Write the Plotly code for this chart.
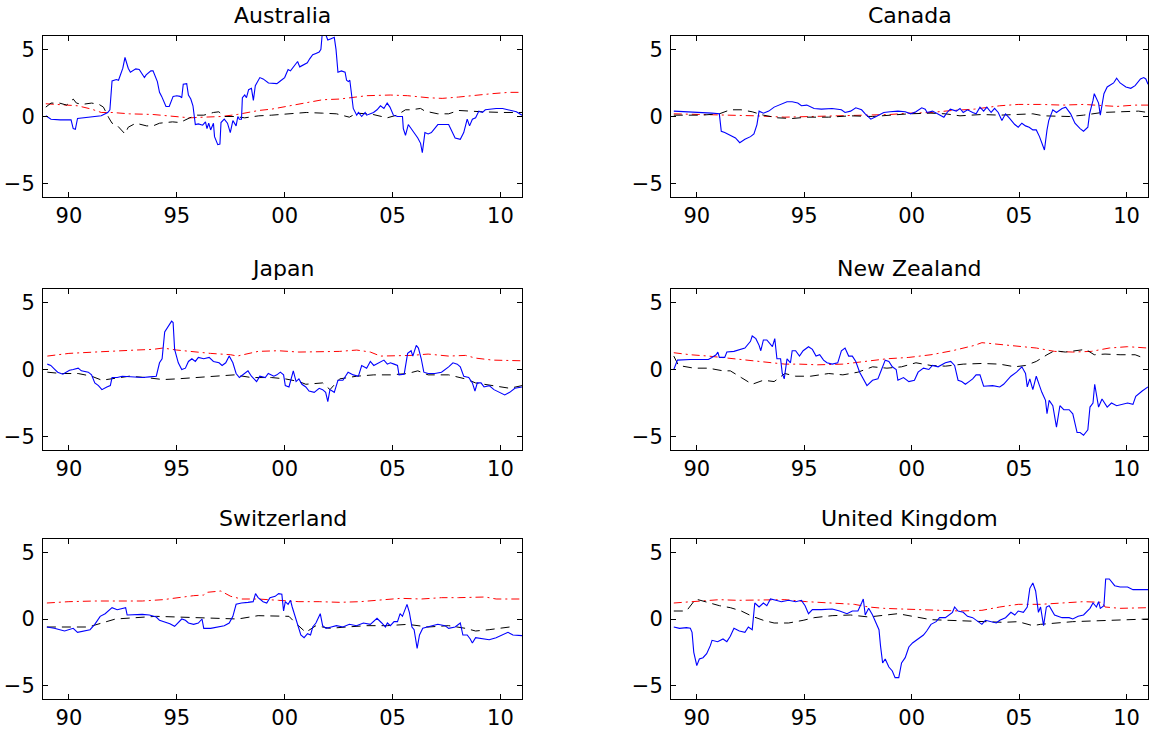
import plotly.graph_objects as go

# ---------------- data (decimal years, values) ----------------
TITLES = ["Australia", "Canada", "Japan", "New Zealand", "Switzerland", "United Kingdom"]
X_TICKS = [1990, 1995, 2000, 2005, 2010]
X_TICK_LABELS = ["90", "95", "00", "05", "10"]
Y_TICKS = [-5, 0, 5]
Y_TICK_LABELS = ["\u22125", "0", "5"]

# Australia
AUS_BLUE_X = [1988.93, 1989.17, 1989.6, 1990.1, 1990.2, 1990.3, 1990.4, 1990.9, 1991.5, 1991.8, 1991.9, 1992.0, 1992.2, 1992.3, 1992.5, 1992.6, 1992.75, 1992.85, 1993.1, 1993.26, 1993.5, 1993.58, 1993.8, 1993.9, 1994.1, 1994.2, 1994.3, 1994.5, 1994.65, 1994.83, 1995.0, 1995.15, 1995.23, 1995.3, 1995.46, 1995.54, 1995.65, 1995.75, 1995.86, 1996.0, 1996.2, 1996.33, 1996.4, 1996.48, 1996.57, 1996.7, 1996.75, 1996.9, 1997.0, 1997.05, 1997.2, 1997.35, 1997.48, 1997.6, 1997.75, 1997.83, 1997.9, 1998.0, 1998.04, 1998.15, 1998.23, 1998.33, 1998.46, 1998.55, 1998.64, 1998.85, 1999.0, 1999.25, 1999.64, 1999.8, 2000.0, 2000.08, 2000.16, 2000.27, 2000.43, 2000.6, 2000.7, 2000.9, 2001.05, 2001.16, 2001.3, 2001.45, 2001.6, 2001.68, 2001.76, 2001.88, 2002.0, 2002.15, 2002.3, 2002.38, 2002.47, 2002.63, 2002.8, 2002.87, 2002.95, 2003.02, 2003.18, 2003.34, 2003.42, 2003.57, 2003.73, 2003.8, 2003.97, 2004.12, 2004.28, 2004.44, 2004.6, 2004.75, 2004.88, 2005.04, 2005.23, 2005.46, 2005.5, 2005.6, 2005.73, 2005.86, 2006.01, 2006.17, 2006.3, 2006.38, 2006.5, 2006.65, 2006.8, 2006.96, 2007.1, 2007.6, 2007.75, 2007.9, 2008.14, 2008.3, 2008.46, 2008.57, 2008.7, 2008.85, 2009.0, 2009.17, 2009.3, 2009.8, 2010.1, 2010.4, 2010.74, 2011.0]
AUS_BLUE_Y = [0.05, -0.2, -0.25, -0.25, -0.9, -0.95, -0.15, -0.05, 0.05, 0.3, 0.5, 2.65, 2.75, 2.7, 3.6, 4.4, 3.6, 3.3, 3.55, 3.5, 2.9, 3.1, 3.4, 3.4, 2.6, 1.8, 1.5, 0.75, 0.75, 1.5, 1.55, 1.5, 1.4, 2.4, 2.45, 1.6, 1.3, 0.8, -0.6, -0.55, -0.65, -0.4, -0.9, -0.5, -1.0, -0.5, -1.5, -2.1, -2.05, -0.45, -0.2, -0.5, -1.2, -0.3, -0.7, 0.0, -0.2, -0.2, 1.4, 1.6, 1.4, 2.0, 2.1, 1.2, 2.3, 2.9, 2.8, 2.5, 2.45, 2.65, 2.9, 3.2, 3.5, 3.4, 3.75, 4.1, 3.7, 3.9, 4.0, 4.3, 4.6, 4.7, 4.8, 5.0, 6.5, 6.2, 5.7, 5.8, 5.9, 5.0, 3.3, 3.4, 3.3, 2.7, 2.6, 2.7, 0.6, 0.1, 0.3, 0.0, 0.3, 0.1, 0.2, 0.3, 0.5, 0.8, 0.6, 1.0, 0.7, 0.1, 0.0, 0.0, -0.9, -1.4, -0.6, -0.9, -1.3, -1.6, -2.0, -2.7, -1.2, -1.3, -1.2, -0.9, -0.6, -0.6, -1.1, -1.6, -1.7, -1.2, -0.2, -0.7, -0.2, -0.1, 0.4, 0.3, 0.5, 0.6, 0.6, 0.5, 0.35, 0.1]
AUS_BLACK_X = [1988.93, 1989.17, 1989.56, 1989.9, 1990.2, 1990.35, 1990.6, 1991.05, 1991.4, 1991.6, 1991.85, 1992.0, 1992.2, 1992.6, 1992.75, 1993.1, 1993.6, 1993.9, 1994.2, 1994.8, 1995.15, 1995.6, 1995.95, 1996.25, 1996.7, 1996.95, 1997.2, 1997.67, 1998.15, 1998.8, 1999.4, 2000.2, 2001.0, 2001.76, 2002.4, 2003.0, 2003.34, 2003.8, 2004.1, 2004.75, 2005.2, 2005.6, 2005.86, 2006.3, 2006.5, 2007.1, 2007.6, 2008.06, 2008.5, 2009.17, 2010.1, 2011.0]
AUS_BLACK_Y = [0.7, 1.0, 1.0, 0.85, 1.3, 1.0, 0.9, 1.0, 0.9, 0.7, -0.1, -0.5, -0.6, -1.3, -0.8, -0.5, -0.7, -0.7, -0.5, -0.4, -0.45, -0.1, 0.1, 0.1, 0.3, 0.35, 0.0, 0.0, -0.1, 0.05, 0.1, 0.2, 0.3, 0.25, 0.2, -0.05, 0.25, 0.2, 0.15, -0.1, 0.1, 0.5, 0.5, 0.6, 0.4, 0.2, 0.2, 0.45, 0.4, 0.35, 0.3, 0.3]
AUS_RED_X = [1988.93, 1989.6, 1990.4, 1991.05, 1991.5, 1992.0, 1992.8, 1993.9, 1994.7, 1995.6, 1996.25, 1997.05, 1997.8, 1998.8, 1999.4, 2000.2, 2001.0, 2001.76, 2002.55, 2003.0, 2003.8, 2004.9, 2005.7, 2006.65, 2007.3, 2008.06, 2008.85, 2009.6, 2010.4, 2011.0]
AUS_RED_Y = [0.95, 0.9, 0.8, 0.55, 0.3, 0.3, 0.2, 0.15, 0.05, -0.1, -0.05, 0.0, 0.15, 0.45, 0.55, 0.8, 1.05, 1.25, 1.3, 1.4, 1.55, 1.6, 1.55, 1.4, 1.35, 1.45, 1.6, 1.7, 1.8, 1.8]

# Canada
CAN_BLUE_X = [1988.93, 1989.7, 1990.37, 1990.7, 1991.05, 1991.14, 1991.3, 1991.56, 1991.8, 1992.0, 1992.24, 1992.5, 1992.66, 1992.8, 1992.9, 1993.1, 1993.35, 1993.6, 1993.94, 1994.2, 1994.44, 1994.7, 1994.87, 1995.12, 1995.46, 1995.8, 1996.3, 1996.73, 1996.9, 1997.16, 1997.4, 1997.67, 1997.84, 1998.1, 1998.35, 1998.7, 1999.0, 1999.36, 1999.7, 1999.96, 2000.2, 2000.47, 2000.63, 2000.72, 2000.97, 2001.3, 2001.5, 2001.65, 2001.8, 2002.08, 2002.25, 2002.4, 2002.6, 2002.84, 2003.0, 2003.18, 2003.35, 2003.5, 2003.7, 2003.86, 2004.03, 2004.2, 2004.37, 2004.54, 2004.8, 2004.96, 2005.13, 2005.3, 2005.47, 2005.64, 2005.8, 2005.95, 2006.06, 2006.18, 2006.3, 2006.38, 2006.57, 2006.74, 2007.0, 2007.17, 2007.4, 2007.6, 2007.84, 2008.0, 2008.2, 2008.28, 2008.44, 2008.5, 2008.7, 2008.78, 2008.95, 2009.1, 2009.4, 2009.54, 2009.7, 2009.97, 2010.2, 2010.4, 2010.65, 2010.8, 2010.9, 2011.0]
CAN_BLUE_Y = [0.4, 0.35, 0.3, 0.25, 0.2, -1.1, -1.2, -1.4, -1.6, -1.95, -1.7, -1.5, -1.3, -0.6, 0.4, 0.25, 0.4, 0.7, 0.9, 1.1, 1.1, 1.0, 0.8, 0.85, 0.6, 0.55, 0.6, 0.5, 0.3, 0.4, 0.65, 0.5, 0.2, -0.2, 0.0, 0.3, 0.35, 0.4, 0.35, 0.2, 0.35, 0.65, 0.55, 0.3, 0.4, 0.15, -0.05, 0.3, 0.55, 0.4, 0.6, 0.3, 0.5, 0.3, 0.2, 0.7, 0.4, 0.7, 0.3, 0.6, 0.3, -0.3, 0.2, -0.1, -0.6, -0.8, -0.5, -0.7, -0.8, -1.0, -1.0, -1.5, -2.0, -2.5, -1.0, -0.3, 0.5, 0.3, 0.6, 0.7, 0.2, -0.5, -0.9, -1.1, -0.8, 0.2, 1.2, 1.7, 1.0, 0.1, 1.7, 2.2, 2.5, 2.85, 2.5, 2.2, 2.1, 2.3, 2.8, 2.9, 2.8, 2.4]
CAN_BLACK_X = [1988.93, 1990.2, 1991.05, 1991.56, 1992.07, 1992.58, 1993.1, 1993.77, 1994.44, 1995.12, 1996.14, 1997.16, 1998.18, 1999.0, 1999.87, 2000.9, 2001.57, 2002.25, 2003.27, 2004.1, 2004.96, 2005.64, 2006.14, 2006.65, 2007.33, 2008.0, 2008.86, 2009.7, 2010.56, 2011.0]
CAN_BLACK_Y = [0.1, 0.1, 0.2, 0.5, 0.5, 0.35, 0.1, -0.1, -0.15, -0.05, -0.05, 0.05, 0.0, 0.1, 0.2, 0.25, 0.2, 0.05, 0.15, 0.1, 0.15, 0.2, 0.05, 0.05, 0.0, 0.1, 0.3, 0.35, 0.4, 0.3]
CAN_RED_X = [1988.93, 1990.5, 1991.7, 1992.75, 1994.1, 1995.63, 1996.8, 1998.0, 1999.0, 1999.87, 2000.9, 2001.9, 2002.93, 2004.1, 2004.96, 2006.0, 2007.0, 2008.0, 2008.86, 2009.54, 2010.4, 2011.0]
CAN_RED_Y = [0.2, 0.15, 0.1, 0.05, -0.05, 0.0, 0.05, 0.1, 0.15, 0.25, 0.3, 0.45, 0.55, 0.8, 0.9, 0.9, 0.85, 0.9, 0.8, 0.75, 0.85, 0.85]

# Japan
JPN_BLUE_X = [1989.0, 1989.16, 1989.32, 1989.48, 1989.72, 1989.87, 1990.03, 1990.2, 1990.43, 1990.58, 1990.9, 1991.05, 1991.2, 1991.37, 1991.53, 1991.76, 1991.92, 1992.0, 1992.24, 1992.47, 1992.8, 1993.1, 1993.42, 1993.73, 1994.05, 1994.2, 1994.32, 1994.44, 1994.6, 1994.76, 1994.83, 1994.9, 1995.07, 1995.23, 1995.4, 1995.54, 1995.7, 1995.86, 1996.0, 1996.25, 1996.5, 1996.7, 1996.96, 1997.1, 1997.27, 1997.43, 1997.6, 1997.75, 1997.9, 1998.14, 1998.3, 1998.46, 1998.7, 1998.85, 1999.1, 1999.24, 1999.5, 1999.64, 1999.8, 1999.95, 2000.03, 2000.2, 2000.3, 2000.4, 2000.53, 2000.66, 2000.8, 2000.98, 2001.13, 2001.37, 2001.6, 2001.76, 2001.9, 2002.0, 2002.1, 2002.3, 2002.47, 2002.7, 2002.94, 2003.18, 2003.42, 2003.57, 2003.8, 2003.97, 2004.13, 2004.36, 2004.6, 2004.76, 2004.9, 2005.07, 2005.23, 2005.3, 2005.54, 2005.7, 2005.86, 2005.94, 2006.1, 2006.2, 2006.33, 2006.45, 2006.65, 2006.96, 2007.27, 2007.6, 2007.8, 2008.0, 2008.14, 2008.3, 2008.53, 2008.7, 2008.82, 2008.93, 2009.1, 2009.24, 2009.48, 2009.7, 2009.95, 2010.2, 2010.43, 2010.67, 2011.0]
JPN_BLUE_Y = [0.4, 0.3, 0.05, -0.2, -0.35, -0.2, -0.05, 0.0, 0.1, -0.1, -0.2, -0.4, -1.0, -1.2, -1.5, -1.3, -1.2, -0.6, -0.6, -0.5, -0.55, -0.6, -0.6, -0.55, -0.5, 0.5, 0.8, 2.8, 3.2, 3.6, 3.5, 1.5, 0.5, 0.0, 0.1, 0.6, 0.8, 0.6, 0.9, 0.8, 0.9, 0.6, 0.5, 0.3, 0.5, 1.0, 0.5, -0.3, -0.6, -0.3, -0.1, -0.5, -0.9, -0.5, -0.6, -0.3, -0.5, -0.4, -0.2, -0.4, -1.2, -1.3, -0.7, -0.1, -0.9, -0.7, -1.1, -1.3, -1.6, -1.7, -1.4, -1.5, -1.7, -2.4, -1.5, -1.7, -0.8, -0.8, -0.2, -0.4, -0.5, 0.3, 0.1, 0.6, 0.3, 0.5, 0.7, 0.4, 0.5, 0.4, 0.3, -0.4, -0.35, 1.2, 1.4, 1.0, 1.8, 1.6, 0.8, -0.2, -0.3, -0.3, -0.2, 0.2, 0.5, 0.4, 0.2, -0.5, -0.6, -1.0, -1.6, -1.0, -1.0, -1.3, -1.2, -1.5, -1.7, -1.9, -1.7, -1.4, -1.3]
JPN_BLACK_X = [1989.0, 1989.64, 1990.43, 1991.05, 1991.53, 1992.0, 1992.8, 1993.57, 1994.36, 1995.0, 1995.94, 1996.88, 1997.67, 1998.46, 1999.4, 2000.03, 2000.66, 2000.98, 2001.76, 2002.1, 2002.55, 2003.34, 2004.13, 2004.9, 2005.7, 2006.17, 2006.65, 2007.6, 2008.38, 2008.85, 2009.64, 2010.43, 2011.0]
JPN_BLACK_Y = [-0.2, -0.3, -0.3, -0.5, -0.8, -0.7, -0.5, -0.6, -0.75, -0.7, -0.6, -0.5, -0.4, -0.6, -0.6, -0.7, -0.9, -1.1, -1.0, -1.5, -0.7, -0.5, -0.4, -0.4, -0.3, -0.1, -0.4, -0.4, -0.7, -1.0, -1.2, -1.4, -1.2]
JPN_RED_X = [1989.0, 1990.0, 1991.2, 1992.15, 1993.1, 1993.9, 1994.36, 1995.0, 1995.8, 1996.57, 1997.5, 1997.8, 1998.77, 1999.7, 2000.66, 2001.6, 2002.55, 2003.34, 2003.97, 2004.44, 2005.23, 2005.86, 2006.65, 2007.6, 2008.38, 2008.85, 2009.64, 2010.43, 2011.0]
JPN_RED_Y = [1.0, 1.2, 1.3, 1.4, 1.45, 1.5, 1.6, 1.45, 1.3, 1.2, 1.1, 1.0, 1.35, 1.4, 1.3, 1.35, 1.35, 1.45, 1.3, 1.0, 1.0, 1.05, 1.15, 1.0, 1.05, 0.85, 0.7, 0.7, 0.65]

# New Zealand
NZL_BLUE_X = [1988.93, 1989.1, 1989.7, 1990.54, 1990.7, 1990.9, 1990.98, 1991.05, 1991.3, 1991.4, 1991.73, 1991.98, 1992.24, 1992.5, 1992.58, 1992.75, 1992.9, 1992.98, 1993.1, 1993.26, 1993.43, 1993.52, 1993.63, 1993.73, 1993.9, 1993.98, 1994.07, 1994.2, 1994.36, 1994.44, 1994.6, 1994.78, 1994.95, 1995.2, 1995.38, 1995.55, 1995.72, 1995.9, 1996.06, 1996.3, 1996.56, 1996.73, 1996.9, 1997.07, 1997.24, 1997.4, 1997.58, 1997.75, 1997.92, 1998.18, 1998.43, 1998.6, 1998.77, 1998.94, 1999.1, 1999.28, 1999.36, 1999.62, 1999.87, 2000.13, 2000.3, 2000.55, 2000.8, 2000.97, 2001.23, 2001.57, 2001.82, 2002.0, 2002.16, 2002.33, 2002.5, 2002.67, 2002.84, 2003.0, 2003.18, 2003.35, 2003.77, 2004.1, 2004.28, 2004.62, 2004.88, 2005.13, 2005.3, 2005.38, 2005.5, 2005.64, 2005.8, 2005.95, 2006.06, 2006.23, 2006.3, 2006.4, 2006.57, 2006.74, 2006.9, 2007.08, 2007.33, 2007.5, 2007.7, 2007.84, 2008.0, 2008.2, 2008.3, 2008.44, 2008.52, 2008.7, 2008.86, 2009.1, 2009.3, 2009.54, 2009.8, 2010.05, 2010.3, 2010.43, 2010.73, 2011.0]
NZL_BLUE_Y = [0.0, 0.7, 0.75, 0.75, 0.9, 1.1, 1.3, 0.9, 0.9, 1.3, 1.35, 1.5, 1.6, 2.1, 2.5, 2.3, 1.8, 1.4, 2.2, 2.2, 1.9, 1.7, 2.3, 0.8, 0.8, -0.3, -0.7, 0.8, 0.5, 1.4, 1.4, 1.0, 1.4, 1.7, 1.5, 1.0, 1.1, 0.7, 0.5, 0.4, 0.5, 1.4, 1.6, 1.0, 1.0, 0.6, -0.2, -0.7, -1.2, -0.8, -0.7, 0.0, 0.7, 0.6, 0.2, 0.0, -0.8, -0.6, -0.9, -0.8, -0.2, 0.1, 0.0, 0.3, 0.2, 0.5, 0.6, 0.3, -0.8, -0.9, -1.1, -0.9, -0.7, -0.4, -0.4, -1.25, -1.2, -1.3, -1.1, -0.5, -0.2, 0.2, -0.3, -1.3, -0.7, -1.5, -0.5, -1.2, -1.7, -2.3, -3.3, -2.3, -2.7, -4.3, -2.7, -3.0, -3.0, -3.3, -4.7, -4.7, -4.9, -4.5, -2.8, -2.5, -1.1, -2.8, -2.2, -2.8, -2.5, -2.7, -2.6, -2.5, -2.6, -2.0, -1.6, -1.3]
NZL_BLACK_X = [1988.93, 1989.15, 1989.86, 1990.54, 1991.22, 1991.56, 1992.07, 1992.58, 1993.1, 1993.6, 1994.1, 1994.6, 1995.3, 1996.14, 1996.8, 1997.5, 1998.18, 1998.85, 1999.53, 2000.2, 2000.9, 2001.57, 2002.4, 2003.27, 2004.1, 2004.8, 2005.3, 2005.8, 2006.3, 2006.65, 2007.15, 2007.7, 2008.1, 2008.5, 2009.0, 2009.7, 2010.4, 2010.73]
NZL_BLACK_Y = [1.0, 0.3, 0.1, 0.1, -0.1, -0.1, -0.6, -1.1, -0.8, -0.9, -0.3, -0.5, -0.5, -0.3, -0.4, -0.2, 0.2, 0.1, 0.2, 0.5, 0.3, 0.25, 0.4, 0.45, 0.4, 0.2, 0.3, 0.6, 1.1, 1.4, 1.3, 1.4, 1.5, 1.1, 1.15, 1.1, 1.1, 0.9]
NZL_RED_X = [1988.93, 1989.7, 1990.54, 1991.4, 1992.24, 1993.1, 1994.1, 1994.78, 1995.63, 1996.8, 1997.84, 1998.85, 1999.87, 2000.9, 2001.9, 2002.93, 2003.27, 2003.94, 2004.96, 2005.8, 2006.65, 2007.5, 2008.36, 2009.2, 2010.05, 2011.0]
NZL_RED_Y = [1.25, 1.1, 1.0, 0.85, 0.75, 0.6, 0.4, 0.4, 0.35, 0.4, 0.6, 0.8, 0.9, 1.1, 1.4, 1.8, 2.0, 1.9, 1.7, 1.6, 1.35, 1.3, 1.35, 1.6, 1.7, 1.6]

# Switzerland
CHE_BLUE_X = [1988.98, 1989.32, 1989.8, 1990.03, 1990.2, 1990.4, 1990.66, 1990.98, 1991.2, 1991.45, 1991.68, 1991.84, 1992.0, 1992.24, 1992.47, 1992.63, 1992.7, 1993.1, 1993.4, 1993.73, 1994.05, 1994.2, 1994.44, 1994.68, 1994.9, 1995.07, 1995.23, 1995.4, 1995.54, 1995.78, 1996.0, 1996.17, 1996.25, 1996.57, 1996.88, 1997.2, 1997.43, 1997.6, 1997.75, 1998.0, 1998.3, 1998.54, 1998.65, 1998.77, 1999.0, 1999.17, 1999.32, 1999.56, 1999.72, 1999.87, 1999.95, 2000.03, 2000.16, 2000.27, 2000.35, 2000.43, 2000.6, 2000.75, 2000.9, 2001.06, 2001.2, 2001.3, 2001.45, 2001.57, 2001.65, 2001.76, 2001.92, 2002.16, 2002.4, 2002.7, 2003.0, 2003.33, 2003.65, 2003.97, 2004.28, 2004.5, 2004.67, 2004.76, 2004.9, 2005.07, 2005.23, 2005.35, 2005.46, 2005.67, 2005.78, 2005.9, 2006.0, 2006.14, 2006.25, 2006.4, 2006.65, 2007.1, 2007.43, 2007.6, 2007.9, 2008.14, 2008.26, 2008.46, 2008.6, 2008.7, 2008.85, 2009.17, 2009.48, 2009.8, 2010.1, 2010.35, 2010.58, 2011.0]
CHE_BLUE_Y = [-0.6, -0.7, -0.9, -0.8, -0.7, -1.0, -0.9, -0.8, -0.4, 0.2, 0.4, 0.6, 0.85, 0.7, 0.8, 0.85, 0.3, 0.35, 0.35, 0.3, 0.15, -0.1, -0.2, -0.35, -0.55, -0.3, 0.0, -0.1, -0.3, -0.4, -0.3, 0.0, -0.7, -0.7, -0.6, -0.5, -0.3, 0.2, 1.1, 1.2, 1.25, 1.3, 1.9, 1.6, 1.3, 1.2, 1.6, 1.7, 1.9, 1.85, 0.6, 1.3, 1.1, 1.4, 0.9, 0.5, -0.3, -1.2, -1.4, -1.1, -1.2, -0.6, -0.3, 0.1, 0.4, -0.5, -0.7, -0.6, -0.5, -0.6, -0.4, -0.5, -0.3, -0.4, 0.05, -0.3, -0.6, -0.3, -0.5, -0.2, -0.2, 0.4, 0.2, 1.1, 0.5, -0.6, -0.8, -2.2, -1.2, -0.7, -0.6, -0.4, -0.5, -0.7, -0.6, -0.3, -1.2, -1.2, -1.5, -1.8, -1.4, -1.5, -1.55, -1.4, -1.2, -1.0, -1.2, -1.25]
CHE_BLACK_X = [1988.98, 1990.0, 1990.9, 1991.53, 1992.16, 1993.1, 1994.05, 1995.0, 1995.94, 1996.88, 1997.83, 1998.77, 1999.72, 2000.2, 2000.5, 2000.98, 2001.45, 2002.08, 2002.86, 2003.8, 2004.76, 2005.7, 2006.65, 2007.6, 2008.38, 2008.85, 2009.48, 2010.43]
CHE_BLACK_Y = [-0.6, -0.6, -0.6, -0.3, 0.0, 0.1, 0.2, 0.15, 0.1, 0.05, 0.0, 0.25, 0.2, 0.2, -0.3, -1.0, -0.5, -0.7, -0.6, -0.5, -0.5, -0.4, -0.6, -0.5, -0.7, -0.9, -0.8, -0.6]
CHE_RED_X = [1988.98, 1990.0, 1991.2, 1992.3, 1993.4, 1994.36, 1995.0, 1995.78, 1996.25, 1996.4, 1997.04, 1997.5, 1998.0, 1998.77, 1999.72, 2000.66, 2001.6, 2002.55, 2003.5, 2004.44, 2005.38, 2006.33, 2007.27, 2008.06, 2008.85, 2009.3, 2009.8, 2011.0]
CHE_RED_Y = [1.2, 1.3, 1.35, 1.35, 1.35, 1.45, 1.6, 1.75, 1.8, 2.0, 2.1, 1.7, 1.5, 1.5, 1.4, 1.3, 1.3, 1.25, 1.3, 1.45, 1.55, 1.5, 1.6, 1.6, 1.6, 1.65, 1.5, 1.5]

# United Kingdom
GBR_BLUE_X = [1988.93, 1989.2, 1989.52, 1989.7, 1989.78, 1989.86, 1990.0, 1990.12, 1990.29, 1990.46, 1990.63, 1990.71, 1990.97, 1991.22, 1991.4, 1991.56, 1991.73, 1991.98, 1992.24, 1992.4, 1992.58, 1992.7, 1992.9, 1993.1, 1993.26, 1993.43, 1993.68, 1993.94, 1994.27, 1994.6, 1994.87, 1995.04, 1995.2, 1995.38, 1995.8, 1996.3, 1996.65, 1996.99, 1997.24, 1997.5, 1997.67, 1997.75, 1997.84, 1998.0, 1998.18, 1998.35, 1998.48, 1998.55, 1998.65, 1998.77, 1998.94, 1999.1, 1999.23, 1999.4, 1999.53, 1999.7, 1999.87, 2000.04, 2000.2, 2000.4, 2000.55, 2000.7, 2000.9, 2001.14, 2001.3, 2001.57, 2001.74, 2001.9, 2002.0, 2002.16, 2002.4, 2002.6, 2002.84, 2003.1, 2003.27, 2003.43, 2003.7, 2003.94, 2004.1, 2004.37, 2004.62, 2004.8, 2004.96, 2005.2, 2005.38, 2005.5, 2005.64, 2005.77, 2005.9, 2006.0, 2006.14, 2006.27, 2006.4, 2006.65, 2007.0, 2007.33, 2007.5, 2007.75, 2008.0, 2008.3, 2008.44, 2008.6, 2008.7, 2008.78, 2008.95, 2009.03, 2009.2, 2009.45, 2009.7, 2010.05, 2010.3, 2010.56, 2011.0]
GBR_BLUE_Y = [-0.6, -0.7, -0.65, -0.7, -1.0, -2.5, -3.5, -3.0, -2.9, -2.6, -2.0, -1.6, -1.7, -1.5, -1.7, -1.3, -0.7, -0.9, -1.0, -0.6, -0.8, 1.2, 0.9, 1.2, 1.0, 1.5, 1.4, 1.3, 1.4, 1.3, 1.4, 1.0, 0.4, 0.7, 0.7, 0.75, 0.6, 0.4, 0.6, 0.6, 1.2, 1.5, 0.3, 0.8, 0.3, -0.4, -0.8, -2.0, -3.3, -3.0, -3.6, -3.9, -4.4, -4.4, -3.3, -2.9, -2.1, -1.8, -1.6, -1.4, -1.2, -0.9, -0.4, -0.2, 0.1, 0.1, 0.3, 0.5, 0.9, 0.6, 0.5, 0.2, 0.1, -0.2, -0.4, -0.1, -0.2, -0.3, -0.1, 0.1, 0.5, 0.3, 0.6, 0.5, 0.9, 2.3, 2.7, 2.1, 0.5, 0.9, -0.5, 0.9, 1.0, 0.3, 0.1, 0.1, 0.0, 0.2, 0.3, 0.8, 1.2, 0.9, 1.3, 0.8, 1.0, 3.0, 3.0, 2.5, 2.4, 2.4, 2.2, 2.2, 2.2]
GBR_BLACK_X = [1988.93, 1989.52, 1989.95, 1990.37, 1991.05, 1991.56, 1992.07, 1992.58, 1993.1, 1993.6, 1994.27, 1994.95, 1995.46, 1996.3, 1997.16, 1998.0, 1998.7, 1999.36, 2000.04, 2000.9, 2001.74, 2002.6, 2003.43, 2004.28, 2004.96, 2005.64, 2006.0, 2006.65, 2007.5, 2008.36, 2009.2, 2010.05, 2011.0]
GBR_BLACK_Y = [0.6, 0.6, 1.5, 1.3, 1.0, 0.85, 0.6, 0.2, -0.1, -0.3, -0.3, -0.1, 0.1, 0.25, 0.3, 0.15, 0.3, 0.4, 0.2, -0.05, -0.1, -0.15, -0.2, -0.25, -0.2, -0.5, -0.4, -0.3, -0.2, -0.15, -0.1, -0.1, 0.0]
GBR_RED_X = [1988.93, 1989.7, 1990.37, 1991.05, 1991.9, 1993.1, 1994.1, 1995.12, 1996.14, 1997.33, 1998.0, 1998.7, 1999.53, 2000.38, 2001.23, 2002.25, 2003.27, 2004.1, 2004.96, 2006.0, 2007.0, 2008.0, 2008.86, 2009.0, 2009.7, 2010.4, 2011.0]
GBR_RED_Y = [1.2, 1.3, 1.4, 1.45, 1.4, 1.45, 1.45, 1.3, 1.2, 1.1, 0.9, 0.8, 0.75, 0.7, 0.65, 0.6, 0.65, 0.9, 1.1, 1.1, 1.2, 1.3, 1.25, 0.9, 0.8, 0.8, 0.85]

PANELS = [
    (AUS_BLUE_X, AUS_BLUE_Y, AUS_BLACK_X, AUS_BLACK_Y, AUS_RED_X, AUS_RED_Y),
    (CAN_BLUE_X, CAN_BLUE_Y, CAN_BLACK_X, CAN_BLACK_Y, CAN_RED_X, CAN_RED_Y),
    (JPN_BLUE_X, JPN_BLUE_Y, JPN_BLACK_X, JPN_BLACK_Y, JPN_RED_X, JPN_RED_Y),
    (NZL_BLUE_X, NZL_BLUE_Y, NZL_BLACK_X, NZL_BLACK_Y, NZL_RED_X, NZL_RED_Y),
    (CHE_BLUE_X, CHE_BLUE_Y, CHE_BLACK_X, CHE_BLACK_Y, CHE_RED_X, CHE_RED_Y),
    (GBR_BLUE_X, GBR_BLUE_Y, GBR_BLACK_X, GBR_BLACK_Y, GBR_RED_X, GBR_RED_Y),
]

# ---------------- layout ----------------
W, H = 1153, 731
COLS_PX = [(43, 522), (671, 1148)]
ROWS_PX = [(36, 197), (289, 450), (539, 699)]
FONT = "DejaVu Sans, Liberation Sans, Arial, sans-serif"

fig = go.Figure()
layout = dict(
    width=W, height=H, margin=dict(l=0, r=0, t=0, b=0),
    paper_bgcolor="white", plot_bgcolor="white", showlegend=False,
    font=dict(family=FONT, color="black"),
)
annotations = []
for i, (bx, by, kx, ky, rx, ry) in enumerate(PANELS):
    r, c = divmod(i, 2)
    n = i + 1
    xa = "x" if n == 1 else f"x{n}"
    ya = "y" if n == 1 else f"y{n}"
    fig.add_trace(go.Scatter(x=rx, y=ry, mode="lines", xaxis=xa, yaxis=ya,
                             line=dict(color="#ff0000", width=1, dash="8px,4px,2px,4px")))
    fig.add_trace(go.Scatter(x=kx, y=ky, mode="lines", xaxis=xa, yaxis=ya,
                             line=dict(color="black", width=1, dash="9px,6px")))
    fig.add_trace(go.Scatter(x=bx, y=by, mode="lines", xaxis=xa, yaxis=ya,
                             line=dict(color="#0000ff", width=1.1)))
    x0, x1 = COLS_PX[c]
    y0, y1 = ROWS_PX[r]
    common = dict(showline=True, linecolor="black", linewidth=1, mirror="ticks",
                  ticks="inside", ticklen=5, tickcolor="black", tickwidth=1,
                  showgrid=False, zeroline=False,
                  tickfont=dict(family=FONT, size=21, color="black"))
    layout["xaxis" if n == 1 else f"xaxis{n}"] = dict(
        domain=[x0 / W, x1 / W], range=[1988.8, 2011.0], anchor=ya,
        tickmode="array", tickvals=X_TICKS, ticktext=X_TICK_LABELS, **common)
    layout["yaxis" if n == 1 else f"yaxis{n}"] = dict(
        domain=[1 - y1 / H, 1 - y0 / H], range=[-6, 6], anchor=xa,
        tickmode="array", tickvals=Y_TICKS, ticktext=Y_TICK_LABELS,
        ticklabelstandoff=3, **common)
    annotations.append(dict(
        text=TITLES[i], xref="paper", yref="paper",
        x=(x0 + x1) / 2 / W, y=1 - y0 / H, xanchor="center", yanchor="bottom",
        yshift=6, showarrow=False, font=dict(family=FONT, size=22, color="black")))
layout["annotations"] = annotations
fig.update_layout(**layout)
# remove the browser's default 8px page margin so the figure fills the window exactly
fig.write_html("out.html",
               config={"displayModeBar": False},
               post_script="document.body.style.margin='0px';document.body.style.overflow='hidden';")
